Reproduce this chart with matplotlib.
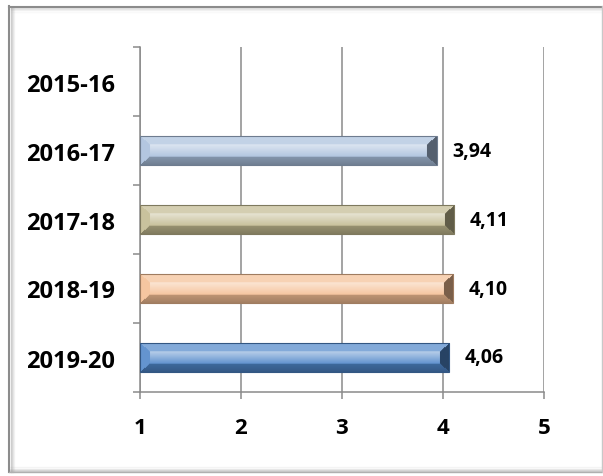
import numpy as np
import matplotlib.pyplot as plt
from matplotlib.colors import to_rgb
from matplotlib.lines import Line2D

#%% данные
seasons = ['2015-16', '2016-17', '2017-18', '2018-19', '2019-20']
values = [np.nan, 3.94, 4.11, 4.10, 4.06]
labels = ['', '3,94', '4,11', '4,10', '4,06']
colors = [None, '#A9BFDC', '#C2BA90', '#F5BF94', '#4F86C9']
xticks = [1, 2, 3, 4, 5]

W, H = 603, 477
grid_c = '#8A8A8A'
font = 'Open Sans'


def mix(c, t, a):
    c, t = np.array(to_rgb(c)), np.array(to_rgb(t))
    return c * (1 - a) + t * a


def bevel_image(color, w, h, b=8, bx=10):
    yy, xx = np.mgrid[0:h, 0:w] + 0.5
    t = yy / h
    # грани: центр, верх, низ, лево, право
    top = mix(color, 'white', 0.3)
    bot = mix(color, 'black', 0.22)
    left = mix(color, 'white', 0.12)
    right = mix(color, 'black', 0.5)
    d = np.stack([yy / b, (h - yy) / b, xx / bx, (w - xx) / bx])
    k = np.argmin(d, axis=0) + 1
    k[d.min(axis=0) >= 1] = 0
    img = np.zeros((h, w, 3))
    # центр: светлый сверху, темнее книзу
    a = 0.6 - 0.5 * (t - b / h) / (1 - 2 * b / h)
    cen = to_rgb(color) * (1 - a[..., None]) + a[..., None]
    img[k == 0] = cen[k == 0]
    img[k == 1] = top
    img[k == 2] = bot
    img[k == 3] = left
    img[k == 4] = right
    # лёгкая тень в нижней грани
    img[k == 2] *= (1 - 0.15 * (yy[k == 2] - (h - b)) / b)[:, None]
    return np.clip(img, 0, 1)


fig = plt.figure(figsize=(W / 100, H / 100), dpi=100)
ax = fig.add_axes([140 / W, 1 - 393 / H, 404 / W, 345 / H])

y = np.arange(len(seasons))
bh = 0.41
vals = np.array(values, dtype=float)
edge = [mix(c, 'black', 0.35) if c else 'none' for c in colors]
bars = ax.barh(y, vals - 1, left=1, height=bh, color=[c or 'none' for c in colors],
               zorder=2)

for bar, v, c, e, lab in zip(bars, vals, colors, edge, labels):
    if np.isnan(v):
        continue
    x0, y0 = bar.get_x(), bar.get_y()
    w, h = bar.get_width(), bar.get_height()
    img = bevel_image(c, max(int(w * 101), 2), 28)
    im = ax.imshow(img, extent=[x0, x0 + w, y0 + h, y0], aspect='auto',
                   interpolation='bilinear', zorder=3)
    im.set_clip_path(bar)
    ax.add_patch(plt.Rectangle((x0, y0), w, h, fill=False, ec=e, lw=0.8, zorder=4))
    ax.annotate(lab, (x0 + w, y0 + h / 2), xytext=(11, 0), textcoords='offset points',
                ha='left', va='center', fontsize=14, fontweight='bold',
                family=font, color='black')

ax.set_xlim(1, 5)
ax.set_ylim(len(seasons) - 0.5, -0.5)
ax.set_xticks(xticks)
ax.set_xticklabels([str(t) for t in xticks], fontsize=16, fontweight='bold', family=font)
ax.set_yticks(np.arange(len(seasons) + 1) - 0.5)
ax.set_yticklabels([])
ax.set_yticks(y, minor=True)
ax.set_yticklabels(seasons, minor=True, fontsize=17, fontweight='bold', family=font)
ax.tick_params(axis='y', which='major', length=5, width=1.1, color=grid_c)
ax.tick_params(axis='y', which='minor', length=0, pad=18)
ax.tick_params(axis='x', length=5, width=1.1, color=grid_c, pad=13)
ax.grid(axis='x', color=grid_c, lw=1.1, zorder=0)
ax.set_axisbelow(True)
for s in ['top', 'right']:
    ax.spines[s].set_visible(False)
for s in ['left', 'bottom']:
    ax.spines[s].set_color(grid_c)
    ax.spines[s].set_linewidth(1.1)

# рамка с тенью
def px(xs, ys, **kw):
    fig.add_artist(Line2D([x / W for x in xs], [1 - v / H for v in ys], **kw))

px([9, 601], [7.5, 7.5], color='#8C8C8C', lw=1.5)
px([9, 9], [7, 473], color='#8C8C8C', lw=1.5)
for i, a in enumerate([0.45, 0.3, 0.18, 0.1]):
    px([10.5 + i * 1.2] * 2, [9, 473], color='#9A9A9A', alpha=a, lw=1)
    px([11, 601], [9 + i * 1.2] * 2, color='#9A9A9A', alpha=a * 0.6, lw=1)
    px([10, 601], [472 - i * 1.2] * 2, color='#9A9A9A', alpha=a, lw=1)
px([601.5, 601.5], [7, 473], color='#C8C8C8', lw=1)
px([9, 601], [473, 473], color='#B0B0B0', lw=1)

plt.savefig('out.png', dpi=100)
